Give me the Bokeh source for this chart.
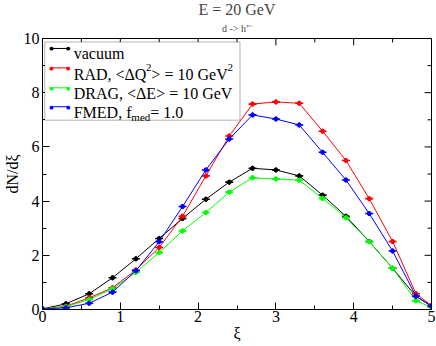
import math
from bokeh.plotting import figure
from bokeh.models import (Range1d, LinearAxis, SingleIntervalTicker, Label, Title,
                          BoxAnnotation, Arrow, ColumnDataSource)
from bokeh.embed import file_html
from bokeh.resources import INLINE

# ---------------- data ----------------
xi = [0.0, 0.3, 0.6, 0.9, 1.2, 1.5, 1.8, 2.1, 2.4, 2.7, 3.0, 3.3, 3.6, 3.9, 4.2, 4.5, 4.8, 5.0]
vacuum = [0.02, 0.21, 0.58, 1.17, 1.87, 2.62, 3.36, 4.07, 4.70, 5.21, 5.15, 4.93, 4.22, 3.44, 2.51, 1.52, 0.49, 0.12]
rad = [0.02, 0.12, 0.43, 0.80, 1.46, 2.29, 3.44, 4.93, 6.40, 7.58, 7.66, 7.61, 6.58, 5.50, 4.09, 2.51, 0.58, 0.15]
drag = [0.02, 0.10, 0.37, 0.77, 1.37, 2.10, 2.90, 3.58, 4.33, 4.86, 4.82, 4.77, 4.10, 3.39, 2.50, 1.52, 0.32, 0.08]
fmed = [0.02, 0.06, 0.23, 0.64, 1.43, 2.50, 3.80, 5.15, 6.29, 7.18, 7.03, 6.81, 5.80, 4.78, 3.54, 2.16, 0.49, 0.12]

series = [("vacuum", vacuum, "#000000"),
          ("rad", rad, "#ff0000"),
          ("drag", drag, "#00ff00"),
          ("fmed", fmed, "#0000ff")]

x_major_ticks = [0, 1, 2, 3, 4, 5]
x_minor_ticks = [0.5, 1.5, 2.5, 3.5, 4.5]
y_major_ticks = [0, 2, 4, 6, 8, 10]
y_minor_ticks = [1, 3, 5, 7, 9]

FONT = "Liberation Serif"
X0, X1, Y0, Y1 = 0.0, 5.0, 0.0, 10.0

p = figure(width=436, height=346, output_backend="svg", toolbar_location=None,
           x_range=Range1d(X0, X1), y_range=Range1d(Y0, Y1),
           x_axis_type=None, y_axis_type=None,
           min_border_left=41, min_border_right=5, min_border_top=37, min_border_bottom=37)
p.background_fill_color = "white"
p.border_fill_color = "white"
p.outline_line_color = "black"
p.outline_line_width = 1
p.xgrid.visible = False
p.ygrid.visible = False

# titles
p.title.text = "E = 20 GeV"
p.title.align = "center"
p.title.text_font = FONT
p.title.text_font_size = "16px"
p.title.text_font_style = "normal"
p.title.standoff = 0
p.title.vertical_align = "top"
p.add_layout(Title(text="d -> h⁺⁻", align="center", text_font=FONT, text_font_size="10px",
                   text_font_style="normal", standoff=6, vertical_align="top"), "above")


def make_axis(ticker):
    ax = LinearAxis(ticker=ticker)
    ax.major_tick_in = 7
    ax.major_tick_out = 0
    ax.minor_tick_in = 4
    ax.minor_tick_out = 0
    ax.axis_line_color = "black"
    ax.major_tick_line_color = "black"
    ax.minor_tick_line_color = "black"
    ax.major_label_text_font = FONT
    ax.major_label_text_color = "black"
    ax.major_label_text_font_size = "16px"
    ax.axis_label_text_font = FONT
    ax.axis_label_text_font_style = "normal"
    ax.axis_label_text_color = "black"
    ax.axis_label_text_font_size = "16px"
    return ax


bx = make_axis(SingleIntervalTicker(interval=1, num_minor_ticks=2))
bx.major_label_standoff = 1
bx.axis_label = "ξ"
bx.axis_label_standoff = 0
p.add_layout(bx, "below")

ly = make_axis(SingleIntervalTicker(interval=2, num_minor_ticks=2))
ly.major_label_standoff = 3
ly.axis_label = "dN/dξ"
ly.axis_label_standoff = 0
p.add_layout(ly, "left")

# inward ticks on the top and right edges of the frame
px_x = (X1 - X0) / 390.0
px_y = (Y1 - Y0) / 272.0
p.segment(x0=x_major_ticks, y0=[Y1] * 6, x1=x_major_ticks, y1=[Y1 - 7 * px_y] * 6, line_color="black", line_width=1)
p.segment(x0=x_minor_ticks, y0=[Y1] * 5, x1=x_minor_ticks, y1=[Y1 - 4 * px_y] * 5, line_color="black", line_width=1)
p.segment(x0=[X1] * 6, y0=y_major_ticks, x1=[X1 - 7 * px_x] * 6, y1=y_major_ticks, line_color="black", line_width=1)
p.segment(x0=[X1] * 5, y0=y_minor_ticks, x1=[X1 - 4 * px_x] * 5, y1=y_minor_ticks, line_color="black", line_width=1)

for name, ys, col in series:
    src = ColumnDataSource(dict(x=xi, y=ys))
    p.line("x", "y", source=src, line_color=col, line_width=1)
    p.scatter("x", "y", source=src, marker="dash", size=8, line_color=col, line_width=1.6)
    p.scatter("x", "y", source=src, marker="dash", angle=math.pi / 2, size=5, line_color=col, line_width=1.6)
    p.scatter("x", "y", source=src, marker="circle", size=4, fill_color=col, line_color=col)


# ---------------- legend (page pixels -> data) ----------------
def dx(px):
    return X0 + (px - 41) * px_x


def dy(py):
    return Y0 + (309 - py) * px_y


def lab(text, px, py, size, align="left", baseline="alphabetic"):
    p.add_layout(Label(x=dx(px), y=dy(py), text=text, text_font=FONT,
                       text_font_size=f"{size}px", text_color="black",
                       text_align=align, text_baseline=baseline))


p.add_layout(BoxAnnotation(left=dx(43.3), right=dx(239), top=dy(40.5), bottom=dy(119),
                           fill_color="white", fill_alpha=1.0,
                           line_color="black", line_width=1, level="annotation"))

rows_line = [47, 66.5, 86.5, 105.5]
for (name, ys, col), ly_ in zip(series, rows_line):
    p.add_layout(Arrow(end=None, x_start=dx(50), y_start=dy(ly_), x_end=dx(66.7), y_end=dy(ly_),
                       line_color=col, line_width=1))
    for px in (50, 66.7):
        p.add_layout(Label(x=dx(px), y=dy(ly_), text="●", text_font="DejaVu Sans",
                           text_font_size="5px", text_color=col,
                           text_align="center", text_baseline="middle"))

lab("vacuum", 72.3, 52.5, 16)
lab("RAD, <ΔQ", 72.3, 73, 16)
lab("2", 144.8, 66, 11)
lab("> = 10 GeV", 150.3, 73, 16)
lab("2", 226.6, 66, 11)
lab("DRAG, <ΔE> = 10 GeV", 72.3, 92.5, 16)
lab("FMED, f", 72.3, 111, 16)
lab("med", 130.1, 116, 11)
lab(" = 1.0", 149.0, 111, 16)

open("out.html", "w").write(file_html(p, INLINE))
